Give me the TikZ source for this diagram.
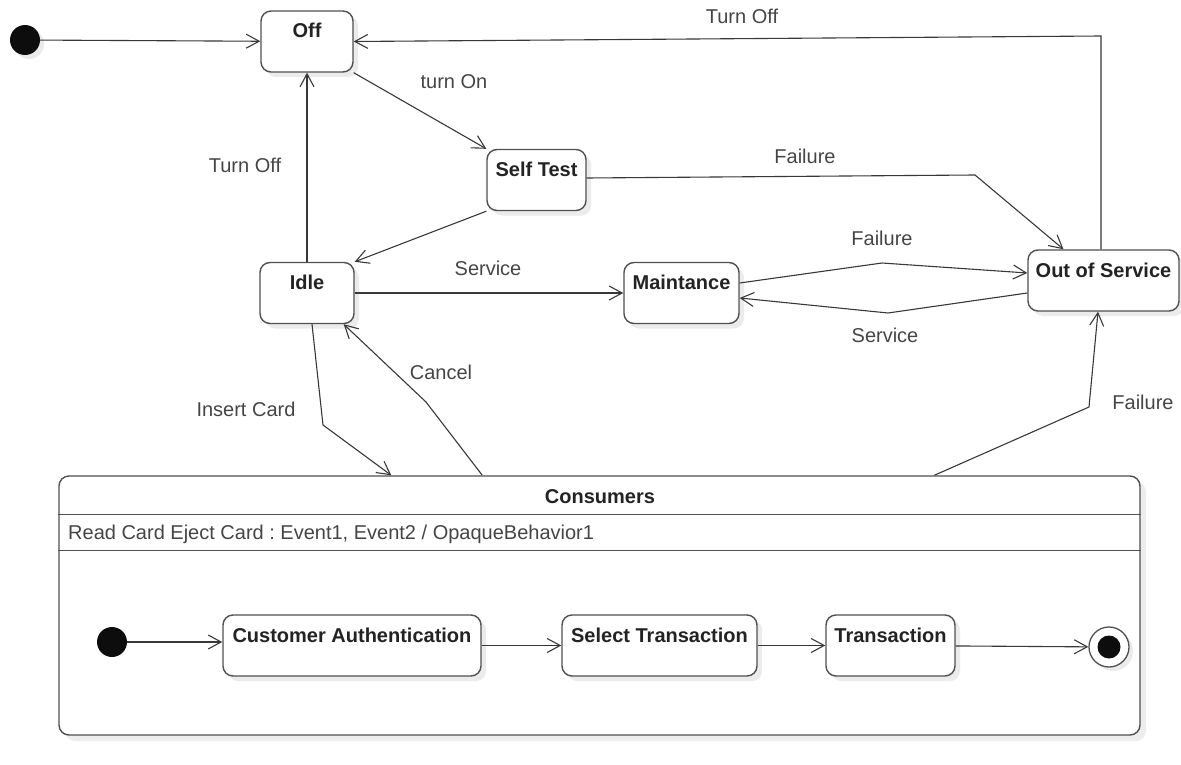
\documentclass[tikz,border=0pt]{standalone}
\usepackage{fontspec}
\setmainfont{Liberation Sans}
\frenchspacing
\usetikzlibrary{arrows.meta,shadows,positioning}

\definecolor{edgegray}{HTML}{505050}
\definecolor{linegray}{HTML}{383838}
\definecolor{textgray}{HTML}{454545}
\definecolor{namegray}{HTML}{232323}
\newcommand{\diagfont}{\fontsize{20}{24}\selectfont}

\tikzset{
  state/.style={draw=edgegray, line width=1.4pt, rounded corners=10pt, fill=white,
    font=\diagfont\bfseries, text=namegray, text height=14.5pt, text depth=21.5pt,
    inner ysep=12.5pt, inner xsep=0pt, minimum height=61pt,
    drop shadow={fill=black!8, opacity=1, shadow xshift=5pt, shadow yshift=-5pt}},
  composite/.style={draw=edgegray, line width=1.4pt, rounded corners=10pt, fill=white,
    inner sep=0pt,
    drop shadow={fill=black!7, opacity=1, shadow xshift=6pt, shadow yshift=-6pt}},
  dot/.style={circle, fill=black!95, minimum size=30pt, inner sep=0pt},
  startdot/.style={dot, drop shadow={fill=black!8, opacity=1, shadow xshift=4pt, shadow yshift=-4pt}},
  endring/.style={circle, draw=edgegray, line width=1.3pt, fill=white, minimum size=40pt, inner sep=0pt,
    drop shadow={fill=black!8, opacity=1, shadow xshift=4pt, shadow yshift=-4pt}},
  trans/.style={draw=linegray, line width=1.1pt, -{Straight Barb[length=13pt, width=14pt]}},
  lbl/.style={font=\diagfont, text=textgray, anchor=base, inner sep=0pt},
}

\begin{document}
\begin{tikzpicture}[x=1pt, y=-1pt]
    \useasboundingbox (0,0) rectangle (1181,765);

    %% TOP STATES
    \node[startdot] (start) at (25,40) {};
    \node[state, minimum width=92pt] (off) at (307,41.5) {Off};
    \node[state, minimum width=99pt] (selftest) at (536.5,180) {Self Test};
    \node[state, minimum width=94pt] (idle) at (307,293) {Idle};
    \node[state, minimum width=115pt] (maint) at (681.5,293) {Maintance};
    \node[state, minimum width=151pt] (outserv) at (1103.5,280.5) {Out of Service};

    %% CONSUMERS
    % Frame
    \node[composite, minimum width=1081pt, minimum height=259pt] (cons) at (599.5,605.5) {};
    % Compartments
    \draw[edgegray, line width=1.4pt] ([yshift=-39pt]cons.north west) -- ([yshift=-39pt]cons.north east);
    \draw[edgegray, line width=1.4pt] ([yshift=-75pt]cons.north west) -- ([yshift=-75pt]cons.north east);
    \node[font=\diagfont\bfseries, text=namegray, anchor=base, inner sep=0pt] (constitle) at (600,503) {Consumers};
    \node[lbl, anchor=base west] (consdo) at (68,539) {Read Card Eject Card : Event1, Event2 / OpaqueBehavior1};
    % Inner states
    \node[dot] (start2) at (112,642) {};
    \node[state, minimum width=258pt] (custauth) at (352,645.5) {Customer Authentication};
    \node[state, minimum width=195pt] (seltrans) at (659.5,645.5) {Select Transaction};
    \node[state, minimum width=129pt] (transaction) at (890.5,645.5) {Transaction};
    \node[endring] (finish) at (1109,647) {};
    \node[dot, minimum size=23pt] (finishdot) at (finish) {};

    %% TRANSITIONS
    % Start and power
    \draw[trans] (start) -- (off);
    \coordinate (topturn) at (1101,36);
    \draw[trans] (outserv.north -| topturn) -- (topturn) -- (off.east);
    \draw[trans] (off.south east) -- (selftest.north west);
    \draw[trans] (idle) -- (off);
    \draw[trans] (selftest.south west) -- (idle.north east);
    % Service and failures
    \draw[trans] (idle) -- (maint);
    \coordinate (failbend) at (975,175);
    \draw[trans] ([yshift=2pt]selftest.east) -- (failbend) -- ([xshift=-40pt]outserv.north);
    \coordinate (failpeak) at (882,263);
    \draw[trans] ([yshift=10pt]maint.east) -- (failpeak) -- ([yshift=7.5pt]outserv.west);
    \coordinate (servdip) at (888,313);
    \draw[trans] ([yshift=-12.5pt]outserv.west) -- (servdip) -- ([yshift=-5pt]maint.east);
    % Consumers
    \coordinate (insertbend) at (323,425);
    \draw[trans] ([xshift=5pt]idle.south) -- (insertbend) -- ([xshift=333pt]cons.north west);
    \coordinate (cancelbend) at (426,402);
    \draw[trans] ([xshift=424pt]cons.north west) -- (cancelbend) -- ([xshift=-11pt]idle.south east);
    \coordinate (failbend2) at (1089,407);
    \draw[trans] ([xshift=876pt]cons.north west) -- (failbend2) -- ([xshift=-5.5pt]outserv.south);
    % Inside consumers
    \draw[trans] (start2) -- (start2 -| custauth.west);
    \draw[trans] (custauth) -- (seltrans);
    \draw[trans] (seltrans) -- (transaction);
    \draw[trans] (transaction) -- (finish);

    %% LABELS
    \node[lbl] (lturnofftop) at (742,24) {Turn Off};
    \node[lbl] (lturnon) at (454,89) {turn On};
    \node[lbl] (lturnoff) at (245,172) {Turn Off};
    \node[lbl] (lfail1) at (805,164) {Failure};
    \node[lbl] (lserv1) at (488,275) {Service};
    \node[lbl] (lfail2) at (882,245) {Failure};
    \node[lbl] (lserv2) at (885,342) {Service};
    \node[lbl] (lcancel) at (441,379) {Cancel};
    \node[lbl] (linsert) at (246,416) {Insert Card};
    \node[lbl] (lfail3) at (1143,409) {Failure};
\end{tikzpicture}
\end{document}
